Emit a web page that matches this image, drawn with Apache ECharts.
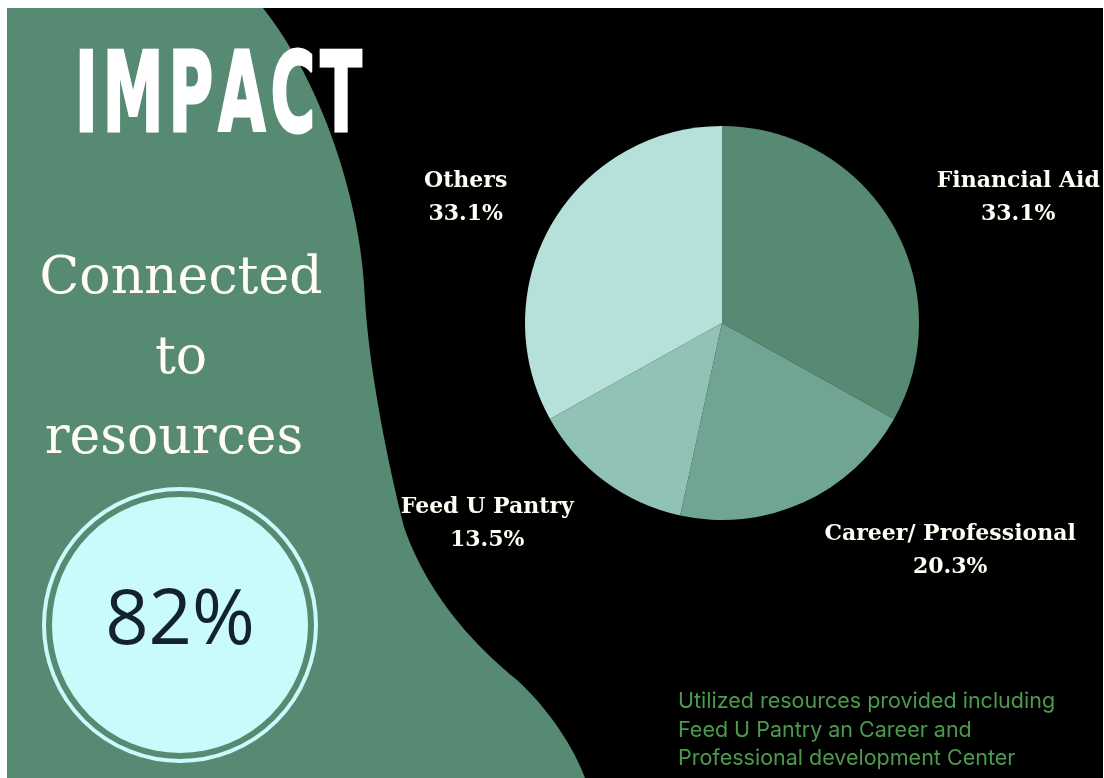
<!DOCTYPE html>
<html>
<head>
<meta charset="utf-8">
<script src="https://cdn.jsdelivr.net/npm/echarts@6/dist/echarts.min.js"></script>
<style>
  html, body { margin: 0; padding: 0; background: #ffffff; }
  #chart { width: 1104px; height: 778px; }
</style>
</head>
<body>
<div id="chart"></div>
<script>
// Resource usage split
const categories = ['Financial Aid', 'Career/ Professional', 'Feed U Pantry', 'Others'];
const shares = [33.1, 20.3, 13.5, 33.1];
const sliceColors = ['#568a72', '#70a593', '#90c2b5', '#b6e0da'];

// Headline texts
const headline = 'IMPACT';
const statLines = ['Connected', 'to', 'resources'];
const statValue = '82%';
const noteLines = [
  'Utilized resources provided including',
  'Feed U Pantry an Career and',
  'Professional development Center'
];

const GREEN = '#568a72';
const PALE = '#c8fbfa';
const CREAM = '#fffdf4';

// left side wave-shaped panel
const wavePath =
  'M7 8 L263 8 ' +
  'C320 80 362 200 365 300 ' +
  'C370 380 392 480 405 530 ' +
  'C430 600 480 650 517 680 ' +
  'C550 710 575 750 585 778 ' +
  'L7 778 Z';
echarts.graphic.registerShape('wavePanel', echarts.graphic.extendPath(wavePath, {}));

const chart = echarts.init(document.getElementById('chart'), null, { renderer: 'canvas' });

const graphics = [
  { type: 'rect', z: 0, shape: { x: 7, y: 8, width: 1096, height: 770 }, style: { fill: '#000000' } },
  { type: 'wavePanel', z: 1, style: { fill: GREEN } },
  // ring + disc
  { type: 'circle', z: 2, shape: { cx: 180, cy: 625, r: 136 }, style: { fill: 'none', stroke: PALE, lineWidth: 4 } },
  { type: 'circle', z: 2, shape: { cx: 180, cy: 625, r: 128 }, style: { fill: PALE } },
  {
    type: 'text', z: 5, x: 180, y: 622,
    style: {
      text: statValue, fill: '#14232b',
      font: '76px "Open Sans"',
      textAlign: 'center', textVerticalAlign: 'middle'
    }
  }
];

// condensed, letter-spaced headline: each glyph squeezed horizontally
const headFont = 'bold 111px "DejaVu Sans"';
const headScale = 0.55;
const headGap = 5;
const measureCtx = document.createElement('canvas').getContext('2d');
measureCtx.font = headFont;
let headX = 75;
headline.split('').forEach(function (ch) {
  graphics.push({
    type: 'text', z: 5, x: headX, y: 102, scaleX: headScale,
    style: {
      text: ch, fill: '#ffffff', stroke: '#ffffff', lineWidth: 3,
      font: headFont,
      textAlign: 'left', textVerticalAlign: 'middle'
    }
  });
  headX += measureCtx.measureText(ch).width * headScale + headGap;
});

const statX = [181, 181, 174];
statLines.forEach(function (line, i) {
  graphics.push({
    type: 'text', z: 5, x: statX[i], y: 279 + i * 80,
    style: {
      text: line, fill: CREAM,
      font: '52px "DejaVu Serif"',
      textAlign: 'center', textVerticalAlign: 'middle'
    }
  });
});

noteLines.forEach(function (line, i) {
  graphics.push({
    type: 'text', z: 5, x: 678, y: 702 + i * 28.5,
    style: {
      text: line, fill: '#4c9a4e',
      font: '21.5px Inter',
      textAlign: 'left', textVerticalAlign: 'middle'
    }
  });
});

chart.setOption({
  backgroundColor: 'transparent',
  animation: false,
  graphic: { elements: graphics },
  series: [{
    type: 'pie',
    z: 3,
    center: [722, 323],
    radius: [0, 197],
    startAngle: 90,
    clockwise: true,
    percentPrecision: 1,
    avoidLabelOverlap: false,
    itemStyle: { borderWidth: 0 },
    label: {
      show: true,
      position: 'outside',
      formatter: '{b}\n{d}%',
      color: CREAM,
      fontFamily: '"DejaVu Serif"',
      fontWeight: 'bold',
      fontSize: 22,
      lineHeight: 33,
      distanceToLabelLine: 0,
      overflow: 'none'
    },
    labelLine: { show: false, length: 52, length2: 0 },
    labelLayout: function (p) {
      const r = p.labelRect;
      return { x: r.x + r.width / 2, y: r.y + r.height / 2 + 1, align: 'center', verticalAlign: 'middle' };
    },
    emphasis: { disabled: true },
    data: categories.map(function (name, i) {
      return { name: name, value: shares[i], itemStyle: { color: sliceColors[i] } };
    })
  }]
});
</script>
</body>
</html>
